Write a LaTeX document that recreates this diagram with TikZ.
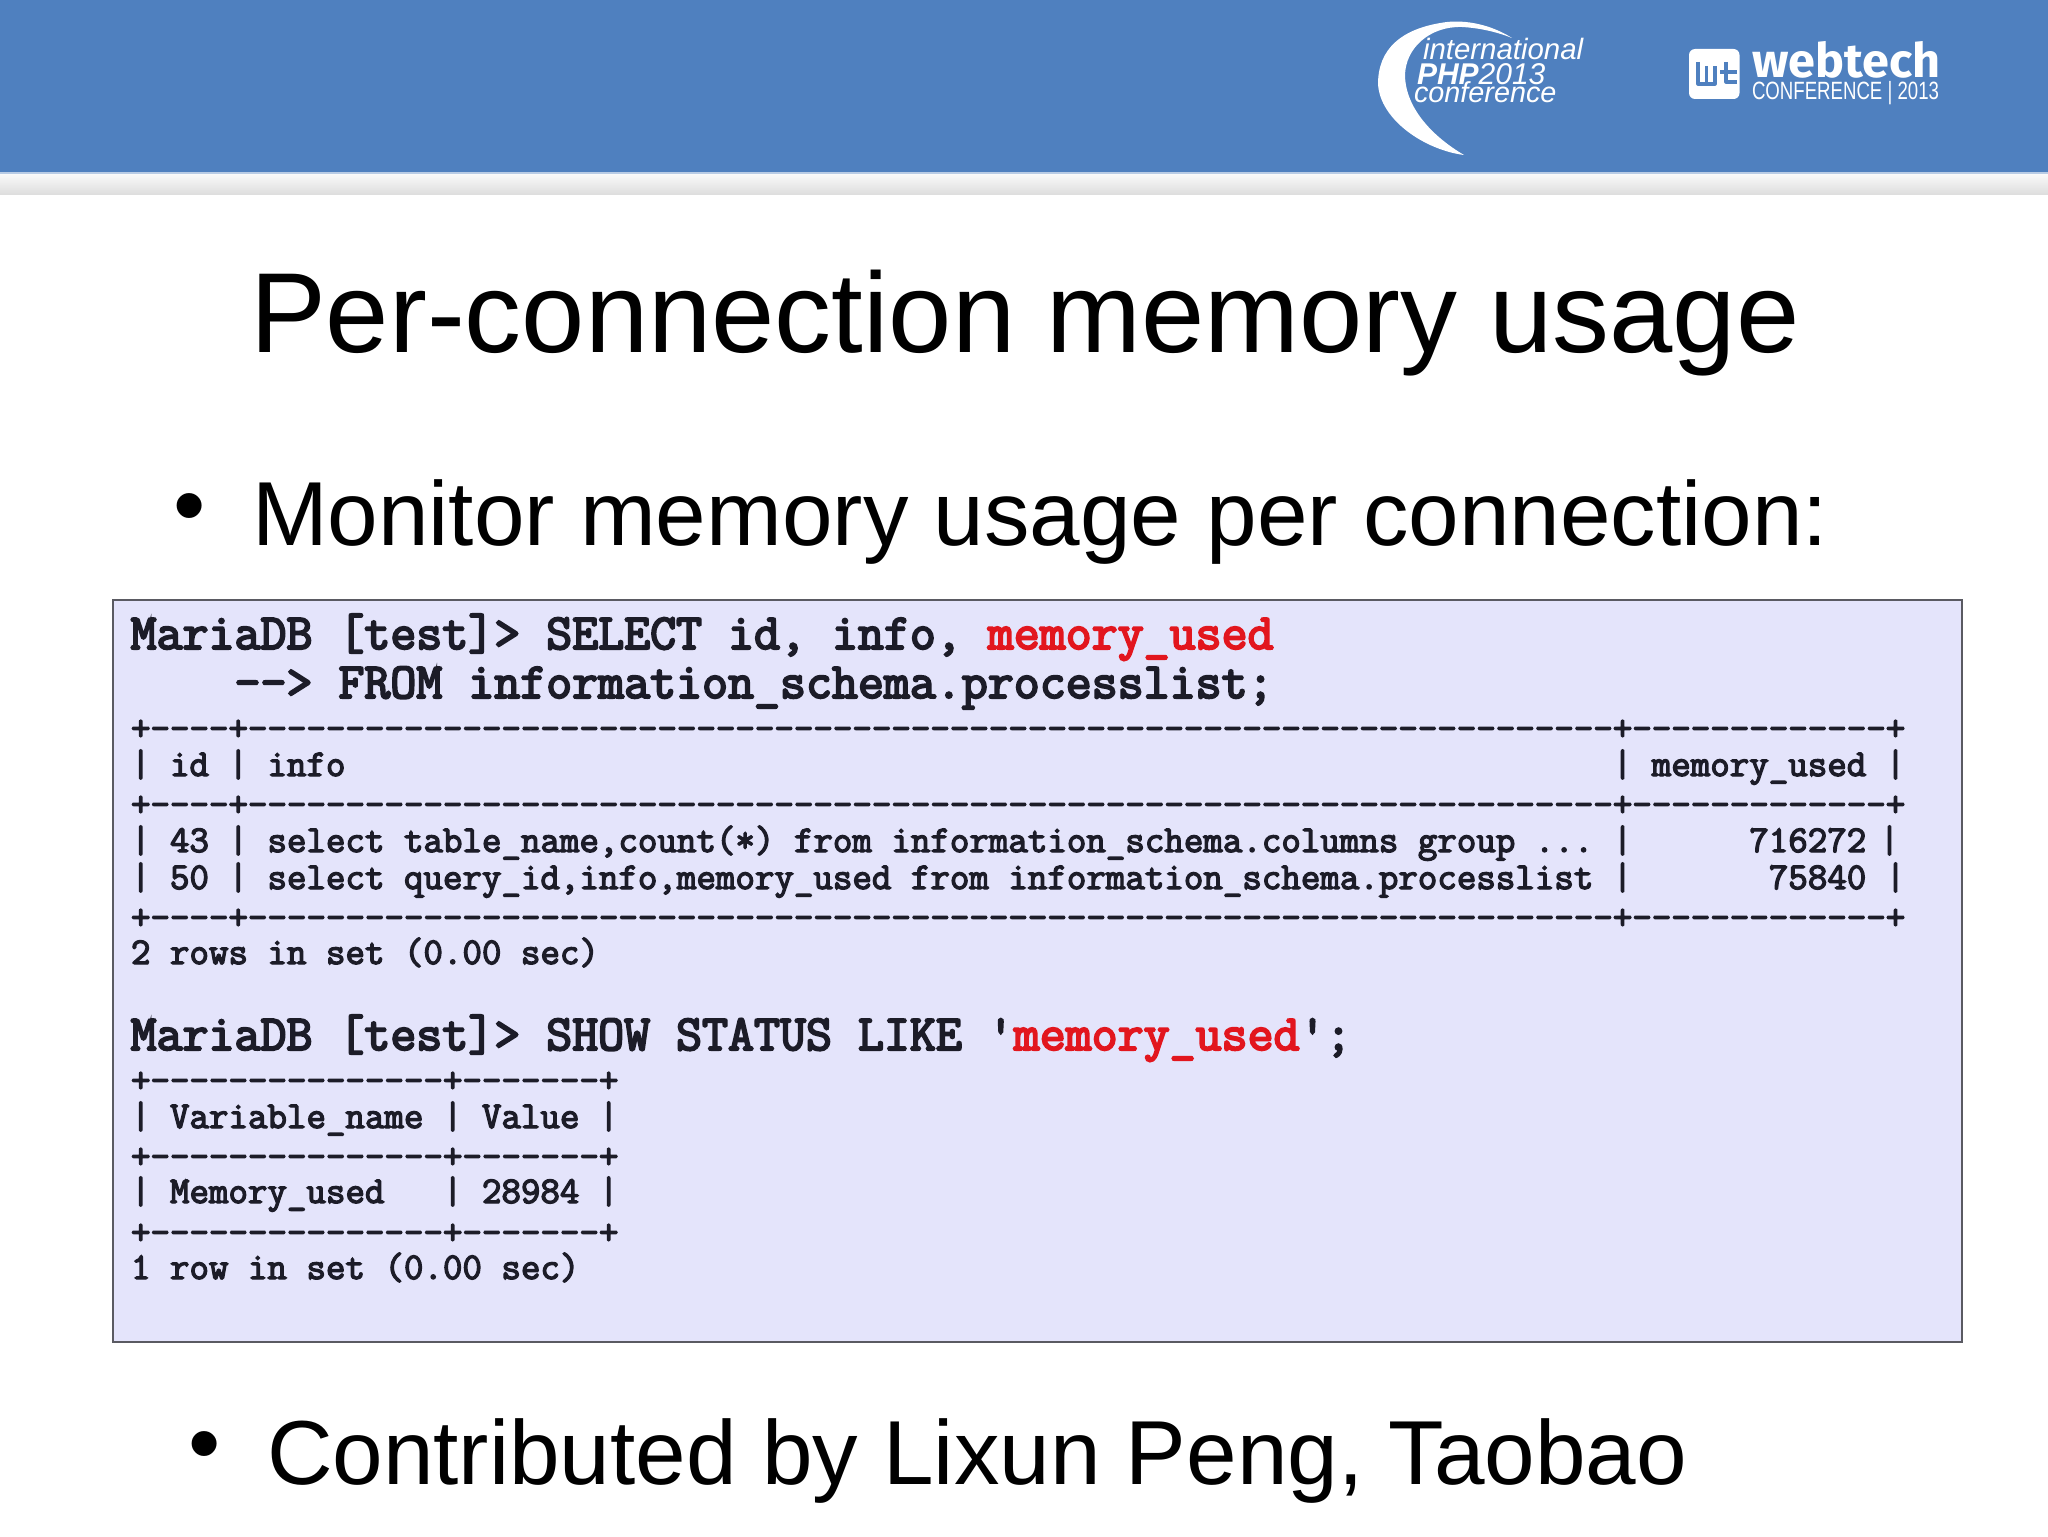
\documentclass[tikz,border=0pt]{standalone}
\usepackage{fontspec}
\setmainfont{Liberation Sans}
\newfontfamily\logofont{Fira Sans}
\newfontfamily\codefont[FakeBold=4]{Latin Modern Mono}
\newfontfamily\smallcodefont[FakeBold=3.5]{Latin Modern Mono}
\definecolor{banner}{HTML}{4F80BF}
\definecolor{panel}{HTML}{E4E4FB}
\definecolor{panelline}{HTML}{5A5A62}
\definecolor{codeink}{HTML}{1C1C28}
\definecolor{codered}{HTML}{E2161E}
\newcommand\dashrun[1]{\foreach\i in {1,...,#1}{-{}}}
\newcommand\hi[1]{\textcolor{codered}{#1}}
\tikzset{
  slidetext/.style={anchor=base west,inner sep=0pt,outer sep=0pt,text=black},
  titletext/.style={slidetext,font=\fontsize{56.9pt}{60pt}\selectfont},
  bodytext/.style={slidetext,font=\fontsize{45.45pt}{50pt}\selectfont},
  bulletmark/.style={anchor=center,inner sep=0pt,text=black,font=\fontsize{46pt}{50pt}\selectfont},
  bigcode/.style={anchor=base west,inner sep=0pt,outer sep=0pt,text=codeink,font=\fontsize{25.22pt}{26pt}\codefont\frenchspacing},
  smallcode/.style={anchor=base west,inner sep=0pt,outer sep=0pt,text=codeink,font=\fontsize{18.93pt}{20pt}\smallcodefont\frenchspacing},
  logotext/.style={anchor=base west,inner sep=0pt,outer sep=0pt,text=white},
}
\begin{document}
\begin{tikzpicture}[x=0.5pt,y=-0.5pt]
\useasboundingbox (0,0) rectangle (2048,1536);
\fill[white] (0,0) rectangle (2048,1536);
% banner
\fill[banner] (0,0) rectangle (2048,172);
\shade[top color=white!97!gray,middle color=white!96!gray,bottom color=black!13] (0,173) rectangle (2048,194);
\draw[line width=1pt,banner!40!white] (0,172.5) -- (2048,172.5);
% crescent logo
\fill[white] (1512,38) .. controls (1490,24) and (1465,20) .. (1447,22)
  .. controls (1400,28) and (1378,50) .. (1378,84)
  .. controls (1380,120) and (1425,150) .. (1464,155)
  .. controls (1435,138) and (1406,110) .. (1405,76)
  .. controls (1405,48) and (1430,26) .. (1462,27)
  .. controls (1480,28) and (1497,32) .. (1512,38) -- cycle;
\node[logotext,font=\fontsize{14.7pt}{16pt}\itshape] (lg1) at (1423,60) {international};
\node[logotext,font=\fontsize{15pt}{16pt}\itshape] (lg2) at (1417,84) {\textbf{PHP}2013};
\node[logotext,font=\fontsize{14.4pt}{16pt}\itshape] (lg3) at (1414,103) {conference};
% webtech logo
\fill[white,rounded corners=3pt] (1689,49) rectangle (1739.5,99);
\draw[banner,line width=1.6pt,line join=round] (1698,62) -- (1698,84) -- (1715,84) -- (1715,66) (1706.5,66) -- (1706.5,84)
  (1726,62) -- (1726,82) -- (1737,82) (1720,72) -- (1737,72);
\node[logotext,font=\logofont\fontsize{27pt}{28pt}\bfseries,xscale=0.90,yscale=0.88] (wt1) at (1752,78) {webtech};
\node[logotext,font=\fontsize{12.5pt}{14pt}\selectfont,xscale=0.745] (wt2) at (1752,99) {CONFERENCE | 2013};
% title
\node[titletext] (title) at (250,352) {Per-connection memory usage};
\node[bulletmark] (b1) at (190,515) {•};
\node[bodytext] (l1) at (252,545) {Monitor memory usage per connection:};
% panel
\draw[draw=panelline,line width=1.1pt,fill=panel] (113,600) rectangle (1962,1342);
\node[bigcode] (c1) at (130.6,649) {MariaDB [test]> SELECT id, info, \hi{memory\_used}};
\node[bigcode] (c2) at (130.6,698) {~~~~-{}-{}> FROM information\_schema.processlist;};
\node[smallcode] (r1) at (131,740) {+\dashrun{4}+\dashrun{70}+\dashrun{13}+};
\node[smallcode] (r2) at (131,776) {| id | info~~~~~~~~~~~~~~~~~~~~~~~~~~~~~~~~~~~~~~~~~~~~~~~~~~~~~~~~~~~~~~~~ | memory\_used |};
\node[smallcode] (r3) at (131,816) {+\dashrun{4}+\dashrun{70}+\dashrun{13}+};
\node[smallcode] (r4) at (131,852) {| 43 | select table\_name,count(*) from information\_schema.columns group ... |~~~~~~716272\hspace{-3pt} |};
\node[smallcode] (r5) at (131,889) {| 50 | select query\_id,info,memory\_used from information\_schema.processlist |~~~~~~~75840 |};
\node[smallcode] (r6) at (131,929) {+\dashrun{4}+\dashrun{70}+\dashrun{13}+};
\node[smallcode] (r7) at (131,964) {2 rows in set (0.00 sec)};
\node[bigcode] (c3) at (130.6,1050) {MariaDB [test]> SHOW STATUS LIKE '\hi{memory\_used}';};
\node[smallcode] (s1) at (131,1092) {+\dashrun{15}+\dashrun{7}+};
\node[smallcode] (s2) at (131,1128) {| Variable\_name | Value |};
\node[smallcode] (s3) at (131,1168) {+\dashrun{15}+\dashrun{7}+};
\node[smallcode] (s4) at (131,1203) {| Memory\_used~~~| 28984 |};
\node[smallcode] (s5) at (131,1244) {+\dashrun{15}+\dashrun{7}+};
\node[smallcode] (s6) at (131,1279) {1 row in set (0.00 sec)};
% last bullet
\node[bulletmark] (b2) at (205,1453) {•};
\node[bodytext] (l2) at (267,1484) {Contributed by Lixun Peng, Taobao};
\end{tikzpicture}
\end{document}
